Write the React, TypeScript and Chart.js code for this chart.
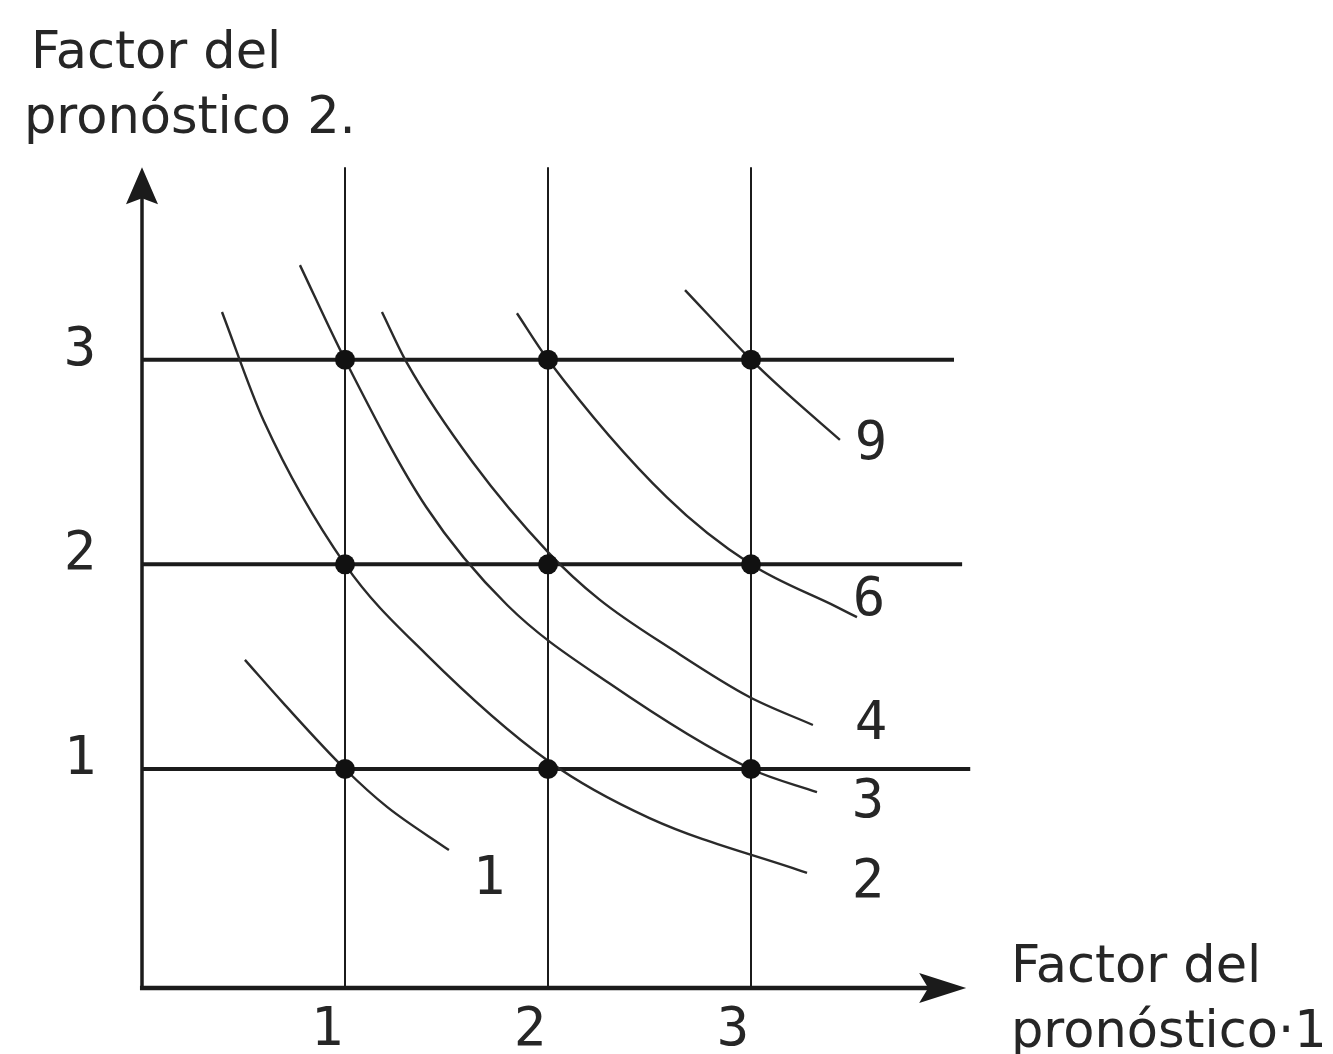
import React, { useEffect, useRef } from "react";
import { Chart, registerables } from "chart.js";

Chart.register(...registerables);

// ---- data ----
const GRID_X = [1, 2, 3];
const GRID_Y = [1, 2, 3];
const TICK_LABELS_X = ["1", "2", "3"];
const TICK_LABELS_Y = ["1", "2", "3"];
const X_MIN = 0;
const X_MAX = 4.1;
const Y_MIN = -0.07;
const Y_MAX = 4.0;
const GRID_TOP = 3.94; // top of vertical grid lines
const H_LINE_END = [4.08, 4.04, 4.0]; // right ends of horizontal lines y=1,2,3
const Y_AXIS_TIP = 3.94;
const X_AXIS_TIP = 4.06;

const CURVE_KEYS = ["1", "2", "3", "4", "6", "9"];
const CURVE_1: [number, number][] = [[0.507, 1.533], [0.695, 1.323], [1, 1], [1.207, 0.815], [1.512, 0.604]];
const CURVE_2: [number, number][] = [[0.394, 3.233], [0.6, 2.7], [1, 2], [1.4, 1.56], [2, 1.04], [2.5, 0.76], [3.276, 0.492]];
const CURVE_3: [number, number][] = [[0.778, 3.462], [1, 3], [1.4, 2.28], [1.8, 1.8], [2.3, 1.42], [3, 1], [3.325, 0.887]];
const CURVE_4: [number, number][] = [[1.182, 3.233], [1.305, 2.984], [1.631, 2.496], [2, 2.06], [2.251, 1.83], [2.616, 1.581], [2.99, 1.353], [3.305, 1.215]];
const CURVE_6: [number, number][] = [[1.847, 3.227], [2, 3], [2.586, 2.327], [3, 2], [3.424, 1.791], [3.522, 1.742]];
const CURVE_9: [number, number][] = [[2.675, 3.34], [3, 3], [3.158, 2.852], [3.438, 2.608]];
const CURVES = [CURVE_1, CURVE_2, CURVE_3, CURVE_4, CURVE_6, CURVE_9];
// label anchor for each curve
const CURVE_LABEL_X = [1.709, 3.576, 3.576, 3.591, 3.581, 3.591];
const CURVE_LABEL_Y = [0.472, 0.458, 0.849, 1.229, 1.835, 2.597];

const DOTS_X = [1, 2, 3, 1, 2, 3, 1, 2, 3];
const DOTS_Y = [1, 1, 1, 2, 2, 2, 3, 3, 3];

const TITLE_Y_LINES = ["Factor del", "pronóstico 2."];
const TITLE_X_LINES = ["Factor del", "pronóstico\u00B71"];

const INK = "#1b1b1b";
const TEXT = "#262626";
const TITLE_FONT = "51px 'DejaVu Sans', 'Liberation Sans', sans-serif";
const DIGIT_FONT = "54px 'Liberation Sans Narrow', 'DejaVu Sans Mono', monospace";

const decorPlugin = {
  id: "decor",
  afterDatasetsDraw(chart: any) {
    const { ctx, scales } = chart;
    const xs = scales.x;
    const ys = scales.y;
    const px = (v: number) => xs.getPixelForValue(v);
    const py = (v: number) => ys.getPixelForValue(v);
    ctx.save();
    ctx.fillStyle = INK;
    // y arrow
    const yx = px(X_MIN);
    const yt = py(Y_AXIS_TIP);
    ctx.beginPath();
    ctx.moveTo(yx, yt);
    ctx.lineTo(yx + 16, yt + 37);
    ctx.lineTo(yx, yt + 31);
    ctx.lineTo(yx - 16, yt + 37);
    ctx.closePath();
    ctx.fill();
    // x arrow
    const xt = px(X_AXIS_TIP);
    const xy = py(Y_MIN);
    ctx.beginPath();
    ctx.moveTo(xt, xy);
    ctx.lineTo(xt - 47, xy - 15);
    ctx.lineTo(xt - 38, xy);
    ctx.lineTo(xt - 47, xy + 15);
    ctx.closePath();
    ctx.fill();

    ctx.fillStyle = TEXT;
    // titles
    ctx.font = TITLE_FONT;
    ctx.textAlign = "left";
    ctx.textBaseline = "alphabetic";
    ctx.fillText(TITLE_Y_LINES[0], 31, 68);
    ctx.fillText(TITLE_Y_LINES[1], 24, 133);
    ctx.fillText(TITLE_X_LINES[0], 1011, 982);
    ctx.fillText(TITLE_X_LINES[1], 1011, 1047);

    // ticks
    ctx.font = DIGIT_FONT;
    ctx.textAlign = "center";
    ctx.textBaseline = "middle";
    GRID_Y.forEach((v, i) => {
      ctx.fillText(TICK_LABELS_Y[i], 80, py(v) - 9);
    });
    GRID_X.forEach((v, i) => {
      ctx.fillText(TICK_LABELS_X[i], px(v) - 18, xy + 43);
    });
    // curve labels
    CURVE_KEYS.forEach((k, i) => {
      ctx.fillText(k, px(CURVE_LABEL_X[i]), py(CURVE_LABEL_Y[i]) + 3);
    });
    ctx.restore();
  },
};

export default function App() {
  const ref = useRef<HTMLCanvasElement | null>(null);
  useEffect(() => {
    if (!ref.current) return;
    const datasets: any[] = [];
    // vertical grid lines
    GRID_X.forEach((v) => {
      datasets.push({
        type: "line",
        data: [{ x: v, y: Y_MIN }, { x: v, y: GRID_TOP }],
        borderColor: INK,
        borderWidth: 2,
        pointRadius: 0,
        clip: false,
        order: 3,
      });
    });
    // horizontal grid lines
    GRID_Y.forEach((v, i) => {
      datasets.push({
        type: "line",
        data: [{ x: X_MIN, y: v }, { x: H_LINE_END[i], y: v }],
        borderColor: INK,
        borderWidth: 4,
        pointRadius: 0,
        clip: false,
        order: 3,
      });
    });
    // axes
    datasets.push({
      type: "line",
      data: [{ x: X_MIN, y: Y_MIN }, { x: X_MIN, y: Y_AXIS_TIP - 0.12 }],
      borderColor: INK,
      borderWidth: 3.5,
      pointRadius: 0,
      clip: false,
      order: 3,
    });
    datasets.push({
      type: "line",
      data: [{ x: X_MIN - 0.01, y: Y_MIN }, { x: X_AXIS_TIP - 0.15, y: Y_MIN }],
      borderColor: INK,
      borderWidth: 4.5,
      pointRadius: 0,
      clip: false,
      order: 3,
    });
    // curves
    CURVES.forEach((c) => {
      datasets.push({
        type: "line",
        data: c.map(([x, y]) => ({ x, y })),
        borderColor: "#2a2a2a",
        borderWidth: 2.4,
        pointRadius: 0,
        cubicInterpolationMode: "monotone",
        clip: false,
        order: 2,
      });
    });
    // dots
    datasets.push({
      type: "scatter",
      data: DOTS_X.map((x, i) => ({ x, y: DOTS_Y[i] })),
      backgroundColor: "#111",
      borderColor: "#111",
      borderWidth: 0,
      pointRadius: 10,
      clip: false,
      order: 0,
    });

    const chart = new Chart(ref.current, {
      type: "line",
      data: { datasets },
      options: {
        responsive: false,
        animation: false,
        devicePixelRatio: 1,
        layout: { padding: { left: 142, right: 358.7, top: 155, bottom: 66 } },
        plugins: { legend: { display: false }, tooltip: { enabled: false }, title: { display: false } },
        events: [],
        scales: {
          x: { type: "linear", min: X_MIN, max: X_MAX, display: false },
          y: { type: "linear", min: Y_MIN, max: Y_MAX, display: false },
        },
      },
      plugins: [decorPlugin],
    } as any);
    return () => chart.destroy();
  }, []);
  return (
    <div style={{ position: "fixed", left: 0, top: 0, width: 1333, height: 1054, background: "#fff" }}>
      <canvas ref={ref} width={1333} height={1054} style={{ width: 1333, height: 1054, display: "block" }} />
    </div>
  );
}
